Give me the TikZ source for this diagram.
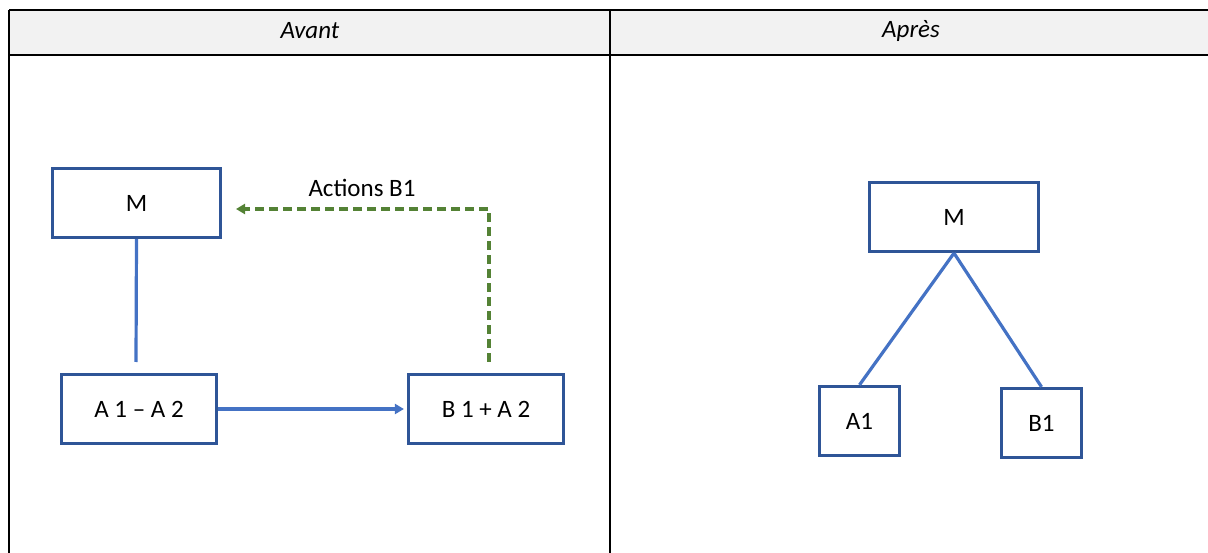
\documentclass[tikz,border=0pt]{standalone}
\usepackage{fontspec}
\setmainfont{Carlito}
\usetikzlibrary{arrows.meta}
\definecolor{boxblue}{HTML}{2F5597}
\definecolor{linkblue}{HTML}{4472C4}
\definecolor{actgreen}{HTML}{548235}
\definecolor{headgray}{HTML}{F2F2F2}
\tikzset{
  box/.style={draw=boxblue, line width=3.2pt, inner sep=0pt, fill=white,
              font=\fontsize{25}{30}\selectfont},
  link/.style={draw=linkblue, line width=3.2pt},
  act/.style={draw=actgreen, line width=3.2pt, dash pattern=on 9pt off 5pt},
  tip/.style={-{Triangle[length=9pt,width=10pt]}},
  grid/.style={draw=black, line width=2.5pt},
  head/.style={font=\fontsize{25}{30}\selectfont\itshape}
}
\begin{document}
\begin{tikzpicture}[x=1pt,y=-1pt]
\useasboundingbox (0,0) rectangle (1208,553);
% table header and rules
\fill[headgray] (9,10) rectangle (1208,55);
\draw[grid] (9,10) -- (1208,10);
\draw[grid] (9,55) -- (1208,55);
\draw[grid] (9,10) -- (9,553);
\draw[grid] (610,10) -- (610,553);
\node[head] (hAvant) at (310,31) {Avant};
\node[head] (hApres) at (911,31) {Après};

% left panel: before
\node[box, minimum width=168pt, minimum height=69pt] (M) at (136.5,203) {M};
\node[box, minimum width=155pt, minimum height=69pt] (A) at (139,409) {A 1 – A 2};
\node[box, minimum width=155pt, minimum height=69pt] (B) at (486,409) {B 1 + A 2};
\coordinate (mEnd) at (136,362);
\draw[link] (M.south) -- (mEnd);
\draw[link, tip] (A.east) -- ([xshift=-3pt]B.west);
\coordinate (actStart) at (489,362);
\coordinate (actEnd) at (236,209);
\draw[act, tip] (actStart) |- (actEnd);
\node[font=\fontsize{25}{30}\selectfont] (actLabel) at (362,188) {Actions B1};

% right panel: after
\node[box, minimum width=169pt, minimum height=69pt] (M2) at (954,217) {M};
\node[box, minimum width=80pt, minimum height=69pt] (A1) at (859.5,421) {A1};
\node[box, minimum width=80pt, minimum height=69pt] (B1) at (1041.5,423) {B1};
\draw[link] (M2.south) -- (A1.north);
\draw[link] (M2.south) -- (B1.north);
\end{tikzpicture}
\end{document}
